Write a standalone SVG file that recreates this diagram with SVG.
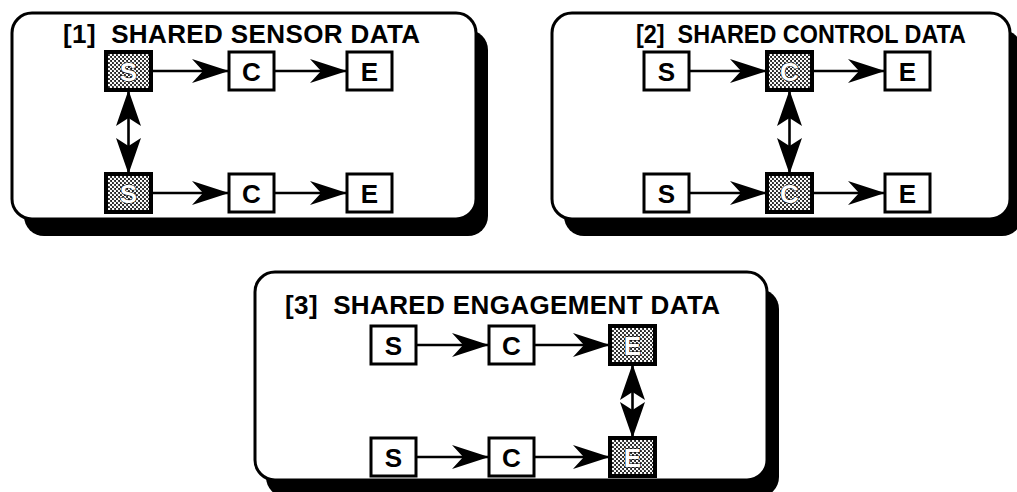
<svg xmlns="http://www.w3.org/2000/svg" width="1017" height="492" viewBox="0 0 1017 492">
  <style>
    .shadow { fill: #000; }
    .panel { fill: #fff; stroke: #000; stroke-width: 3; }
    .title { font-family: "Liberation Sans", Arial, sans-serif; font-weight: bold; font-size: 26px; fill: #000; white-space: pre; }
    .box { fill: #fff; stroke: #000; stroke-width: 3; }
    .box.shared { fill: url(#halftone); stroke-width: 4; }
    .lbl { font-family: "Liberation Sans", Arial, sans-serif; font-weight: bold; font-size: 26px; text-anchor: middle; fill: #000; }
    .lbl.shared { fill: #fff; stroke: #000; stroke-width: 1.2; paint-order: stroke; }
    .flow { fill: none; stroke: #000; stroke-width: 2.6; marker-end: url(#head); }
    .link { fill: none; stroke: #000; stroke-width: 2.6; marker-start: url(#vhead); marker-end: url(#vhead); }
  </style>
  <defs>
    <!-- stippled fill for the shared stage -->
    <pattern id="halftone" width="4" height="4" patternUnits="userSpaceOnUse">
      <rect width="4" height="4" fill="#222"/>
      <circle cx="1" cy="1" r="1.25" fill="#fff"/>
      <circle cx="3" cy="3" r="1.25" fill="#fff"/>
    </pattern>
    <!-- barbed arrowheads -->
    <marker id="head" viewBox="0 0 37 24" refX="37" refY="12" markerWidth="37" markerHeight="24" markerUnits="userSpaceOnUse" orient="auto">
      <path d="M0,0 L37,12 L0,24 L11,12 Z" fill="#000"/>
    </marker>
    <marker id="vhead" viewBox="0 0 36 25" refX="36" refY="12.5" markerWidth="36" markerHeight="25" markerUnits="userSpaceOnUse" orient="auto-start-reverse">
      <path d="M0,0 L36,12.5 L0,25 L8,12.5 Z" fill="#000"/>
    </marker>
  </defs>

  <!-- panel frames with drop shadows -->
  <g id="panel1">
    <rect class="shadow" x="24" y="30" width="464" height="206" rx="20"/>
    <rect class="panel" x="12" y="13" width="464" height="206" rx="20"/>
    <text class="title" x="63" y="43" textLength="357">[1]  SHARED SENSOR DATA</text>
  </g>
  <g id="panel2">
    <rect class="shadow" x="564" y="30" width="458" height="206" rx="20"/>
    <rect class="panel" x="552" y="13" width="458" height="206" rx="20"/>
    <text class="title" x="636" y="43" textLength="330" lengthAdjust="spacingAndGlyphs">[2]  SHARED CONTROL DATA</text>
  </g>
  <g id="panel3">
    <rect class="shadow" x="266" y="289" width="513" height="208" rx="20"/>
    <rect class="panel" x="255" y="272" width="512" height="208" rx="20"/>
    <text class="title" x="285" y="314" textLength="435">[3]  SHARED ENGAGEMENT DATA</text>
  </g>

  <!-- connectors -->
  <g id="connectors">
    <!-- panel 1 -->
    <path class="flow" d="M151,71 H229"/>
    <path class="flow" d="M274,71 H347"/>
    <path class="flow" d="M151,193 H229"/>
    <path class="flow" d="M274,193 H347"/>
    <path class="link" d="M128.5,90 V174"/>
    <!-- panel 2 -->
    <path class="flow" d="M689,71 H767"/>
    <path class="flow" d="M812,71 H885"/>
    <path class="flow" d="M689,193 H767"/>
    <path class="flow" d="M812,193 H885"/>
    <path class="link" d="M789.5,90 V174"/>
    <!-- panel 3 -->
    <path class="flow" d="M416,345 H489"/>
    <path class="flow" d="M534,345 H610"/>
    <path class="flow" d="M416,457 H489"/>
    <path class="flow" d="M534,457 H610"/>
    <path class="link" d="M632.5,364 V438"/>
  </g>

  <!-- panel 1 nodes -->
  <g id="p1-s1"><rect class="box shared" x="106" y="52" width="45" height="38"/><text class="lbl shared" x="128.5" y="80.5">S</text></g>
  <g id="p1-c1"><rect class="box" x="229" y="52" width="45" height="38"/><text class="lbl" x="251.5" y="80.5">C</text></g>
  <g id="p1-e1"><rect class="box" x="347" y="52" width="45" height="38"/><text class="lbl" x="369.5" y="80.5">E</text></g>
  <g id="p1-s2"><rect class="box shared" x="106" y="174" width="45" height="38"/><text class="lbl shared" x="128.5" y="202.5">S</text></g>
  <g id="p1-c2"><rect class="box" x="229" y="174" width="45" height="38"/><text class="lbl" x="251.5" y="202.5">C</text></g>
  <g id="p1-e2"><rect class="box" x="347" y="174" width="45" height="38"/><text class="lbl" x="369.5" y="202.5">E</text></g>

  <!-- panel 2 nodes -->
  <g id="p2-s1"><rect class="box" x="644" y="52" width="45" height="38"/><text class="lbl" x="666.5" y="80.5">S</text></g>
  <g id="p2-c1"><rect class="box shared" x="767" y="52" width="45" height="38"/><text class="lbl shared" x="789.5" y="80.5">C</text></g>
  <g id="p2-e1"><rect class="box" x="885" y="52" width="45" height="38"/><text class="lbl" x="907.5" y="80.5">E</text></g>
  <g id="p2-s2"><rect class="box" x="644" y="174" width="45" height="38"/><text class="lbl" x="666.5" y="202.5">S</text></g>
  <g id="p2-c2"><rect class="box shared" x="767" y="174" width="45" height="38"/><text class="lbl shared" x="789.5" y="202.5">C</text></g>
  <g id="p2-e2"><rect class="box" x="885" y="174" width="45" height="38"/><text class="lbl" x="907.5" y="202.5">E</text></g>

  <!-- panel 3 nodes -->
  <g id="p3-s1"><rect class="box" x="371" y="326" width="45" height="38"/><text class="lbl" x="393.5" y="354.5">S</text></g>
  <g id="p3-c1"><rect class="box" x="489" y="326" width="45" height="38"/><text class="lbl" x="511.5" y="354.5">C</text></g>
  <g id="p3-e1"><rect class="box shared" x="610" y="326" width="45" height="38"/><text class="lbl shared" x="632.5" y="354.5">E</text></g>
  <g id="p3-s2"><rect class="box" x="371" y="438" width="45" height="38"/><text class="lbl" x="393.5" y="466.5">S</text></g>
  <g id="p3-c2"><rect class="box" x="489" y="438" width="45" height="38"/><text class="lbl" x="511.5" y="466.5">C</text></g>
  <g id="p3-e2"><rect class="box shared" x="610" y="438" width="45" height="38"/><text class="lbl shared" x="632.5" y="466.5">E</text></g>
</svg>
